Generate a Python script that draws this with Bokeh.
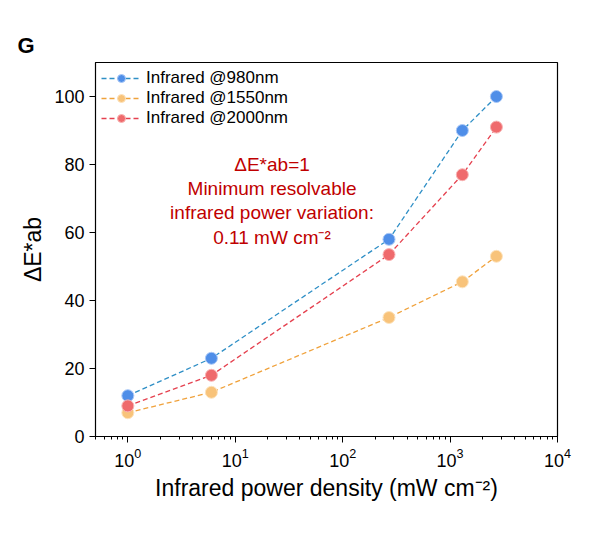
from bokeh.plotting import figure
from bokeh.models import Range1d, Legend, LegendItem
from bokeh.core.properties import value
from bokeh.embed import file_html
from bokeh.resources import INLINE

x = [1, 6, 270, 1300, 2700]
y980 = [12, 23, 58, 90, 100]
y1550 = [7, 13, 35, 45.5, 53]
y2000 = [9, 18, 53.5, 77, 91]
names = ["Infrared @980nm", "Infrared @1550nm", "Infrared @2000nm"]
note = ["ΔE*ab=1", "Minimum resolvable", "infrared power variation:", "0.11 mW cm⁻²"]

p = figure(width=584, height=517, x_axis_type="log", output_backend="svg", toolbar_location=None,
           x_range=Range1d(0.5, 1e4), y_range=Range1d(0, 110),
           min_border_left=95, min_border_top=62, min_border_right=27, min_border_bottom=81)
p.title.text = "G"
p.title.text_font = "Liberation Sans"
p.title.text_font_size = "22px"
p.title.text_font_style = "bold"
p.title.text_color = "black"
p.title.offset = -78
p.grid.visible = False
p.outline_line_color = "black"
p.outline_line_width = 1.2
for ax in (p.xaxis[0], p.yaxis[0]):
    ax.axis_label_text_font = "Liberation Sans"
    ax.axis_label_text_font_style = "normal"
    ax.axis_label_text_font_size = "23px"
    ax.axis_label_text_color = "black"
    ax.major_label_text_font = "Liberation Sans"
    ax.major_label_text_font_size = "18px"
    ax.major_label_text_color = "black"
    ax.axis_line_color = "black"
    ax.major_tick_line_color = "black"
    ax.minor_tick_line_color = "black"
    ax.major_tick_out = 6
    ax.major_tick_in = 0
    ax.minor_tick_out = 3
    ax.minor_tick_in = 0
p.xaxis.axis_label = "Infrared power density (mW cm⁻²)"
p.yaxis.axis_label = "ΔE*ab"
p.yaxis.ticker = [0, 20, 40, 60, 80, 100]
p.yaxis.minor_tick_line_color = None

cols = [("#2f8fc6", "#4f8ee8", "#a9c8f7"), ("#f0a23c", "#f8c37a", "#fde3bd"), ("#e5414f", "#ef6a6c", "#f8b3b3")]
items = []
for ys, (lc, fc, hc), nm in zip([y980, y1550, y2000], cols, names):
    l = p.line(x, ys, line_color=lc, line_dash="5 3", line_width=1.3)
    c = p.scatter(x, ys, size=12, fill_color=fc, line_color=hc, line_width=1)
    items.append(LegendItem(label=nm, renderers=[l, c]))
leg = Legend(items=items, location="top_left", border_line_color=None, background_fill_alpha=0,
             label_text_font="Liberation Sans", label_text_font_size="17px", label_text_color="black",
             glyph_width=40, spacing=0, padding=2, margin=6)
p.add_layout(leg)
p.text([22]*4, [80, 73, 66, 58.5], text=note, text_align="center", text_baseline="middle",
       text_color="#c00000", text_font_size="19px", text_font=value("Liberation Sans"))

open("out.html", "w").write(file_html(p, INLINE))
